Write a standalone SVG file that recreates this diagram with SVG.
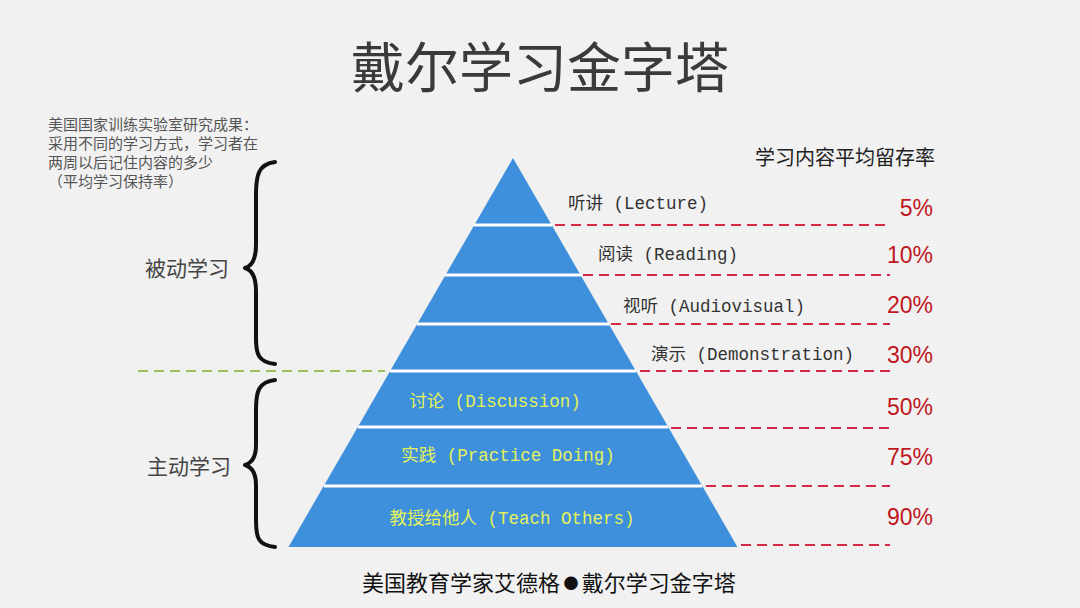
<svg xmlns="http://www.w3.org/2000/svg" width="1080" height="608" viewBox="0 0 1080 608">
<style>
.cjk{font-family:"Noto Sans CJK SC","Noto Sans",sans-serif}
.lbl{font-family:"Liberation Mono","Noto Sans CJK SC",monospace;font-size:17.5px;fill:#333}
.in{font-family:"Liberation Mono","Noto Sans CJK SC",monospace;font-size:17.5px;fill:#e4f25a;text-anchor:middle}
.pct{font-family:"Liberation Sans","Noto Sans",sans-serif;font-size:23px;fill:#c0161e;text-anchor:end}
.band{fill:#3e8fdc}
.sep{stroke:#ffffff;stroke-width:3}
.red{stroke:#d42a48;stroke-width:2;stroke-dasharray:10 6;fill:none}
.green{stroke:#9cc25a;stroke-width:2;stroke-dasharray:10 6;fill:none}
.brace{stroke:#111;stroke-width:4;fill:none;stroke-linecap:round;stroke-linejoin:round}
</style>
<rect width="1080" height="608" fill="#f1f1f1"/>
<text x="540" y="88" class="cjk" font-size="54" fill="#3a3a3a" text-anchor="middle">戴尔学习金字塔</text>
<g id="note" class="cjk" font-size="15" fill="#555">
<text x="48" y="130">美国国家训练实验室研究成果：</text>
<text x="48" y="149">采用不同的学习方式，学习者在</text>
<text x="48" y="168">两周以后记住内容的多少</text>
<text x="48" y="187">（平均学习保持率）</text>
</g>
<text x="845" y="165" class="cjk" font-size="20" fill="#222" text-anchor="middle">学习内容平均留存率</text>
<g id="pyramid">
<g id="band-lecture"><polygon class="band" points="513,158 551.7,225 474.3,225"/><text x="568" y="209" class="lbl">听讲 (Lecture)</text><text x="933" y="216" class="pct">5%</text></g>
<g id="band-reading"><polygon class="band" points="474.3,225 551.7,225 580.5,275 445.5,275"/><text x="598" y="260" class="lbl">阅读 (Reading)</text><text x="933" y="263" class="pct">10%</text></g>
<g id="band-audiovisual"><polygon class="band" points="445.5,275 580.5,275 608.8,324 417.2,324"/><text x="623" y="312" class="lbl">视听 (Audiovisual)</text><text x="933" y="313" class="pct">20%</text></g>
<g id="band-demo"><polygon class="band" points="417.2,324 608.8,324 635.9,371 390.1,371"/><text x="651" y="360" class="lbl">演示 (Demonstration)</text><text x="933" y="363" class="pct">30%</text></g>
<g id="band-discussion"><polygon class="band" points="390.1,371 635.9,371 668.2,427 357.8,427"/><text x="495" y="407" class="in">讨论 (Discussion)</text><text x="933" y="415" class="pct">50%</text></g>
<g id="band-practice"><polygon class="band" points="357.8,427 668.2,427 702.3,486 323.7,486"/><text x="508" y="461" class="in">实践 (Practice Doing)</text><text x="933" y="465" class="pct">75%</text></g>
<g id="band-teach"><polygon class="band" points="323.7,486 702.3,486 737.5,547 288.5,547"/><text x="512" y="524" class="in">教授给他人 (Teach Others)</text><text x="933" y="525" class="pct">90%</text></g>
</g>
<g id="connectors">
<line class="sep" x1="474" y1="225" x2="552" y2="225"/>
<line class="sep" x1="445" y1="275" x2="581" y2="275"/>
<line class="sep" x1="417" y1="324" x2="609" y2="324"/>
<line class="sep" x1="390" y1="371" x2="636" y2="371"/>
<line class="sep" x1="358" y1="427" x2="668" y2="427"/>
<line class="sep" x1="324" y1="486" x2="702" y2="486"/>
<path class="red" d="M555,225H890M583,275H890M611,324H890M640,371H890M671,428H890M706,486H890M741,545H890"/>
<path class="green" d="M138,371H385"/>
<path class="brace" d="M275,162C258,164 256,176 256,195V245C256,258 252,266 245,268C252,270 256,278 256,291V338C256,354 258,362 275,364"/>
<path class="brace" d="M275,380C258,382 256,392 256,410V445C256,456 252,463 245,465C252,467 256,474 256,485V520C256,538 258,545 275,547"/>
</g>
<text x="187" y="276" class="cjk" font-size="21" fill="#444" text-anchor="middle">被动学习</text>
<text x="189" y="474" class="cjk" font-size="21" fill="#444" text-anchor="middle">主动学习</text>
<text x="549" y="591" class="cjk" font-size="22" fill="#111" text-anchor="middle">美国教育学家艾德格<tspan font-size="15" dy="-2"> ● </tspan><tspan dy="2">戴尔学习金字塔</tspan></text>
</svg>
